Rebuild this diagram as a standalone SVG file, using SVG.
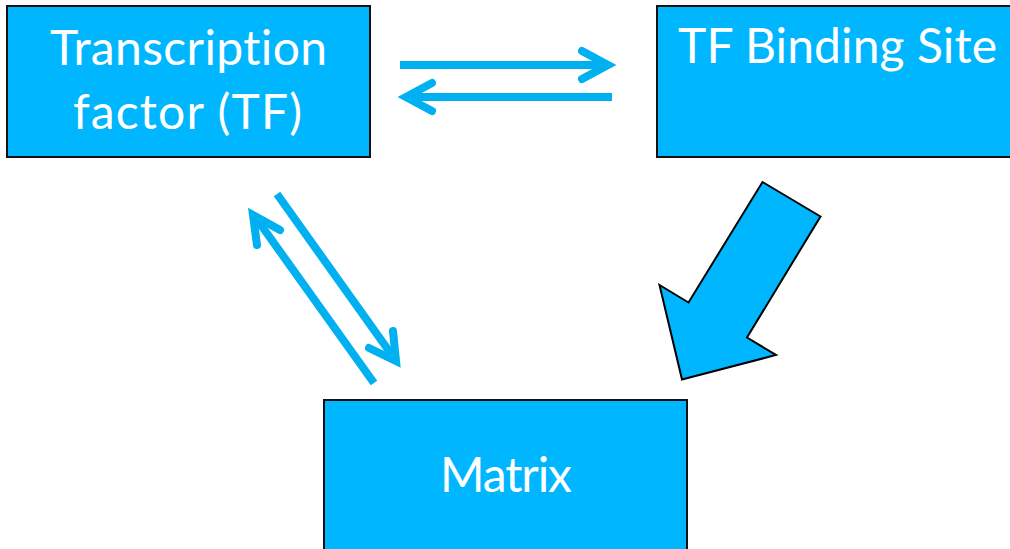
<svg xmlns="http://www.w3.org/2000/svg" width="1010" height="549" viewBox="0 0 1010 549">
  <style>
    .box { fill: #00B7FF; stroke: #111; stroke-width: 2; }
    .label { fill: #fff; font-family: Lato, "Open Sans", "Liberation Sans", sans-serif; font-size: 48px; font-variant-ligatures: none; font-feature-settings: "liga" 0; }
    .shaft { fill: none; stroke: #00B0F0; stroke-width: 8; stroke-linecap: butt; }
    .head { fill: none; stroke: #00B0F0; stroke-width: 8; stroke-linecap: round; stroke-linejoin: miter; stroke-miterlimit: 10; }
    .block { fill: #00B7FF; stroke: #000; stroke-width: 2; stroke-linejoin: miter; }
  </style>
  <rect width="1010" height="549" fill="#fff"/>

  <g id="node-tf">
    <rect class="box" x="7" y="6" width="363" height="151"/>
    <text class="label" x="50" y="65" textLength="277">Transcription</text>
    <text class="label" x="73" y="129" textLength="229">factor (TF)</text>
  </g>

  <g id="node-site">
    <rect class="box" x="657" y="6" width="360" height="151"/>
    <text class="label" x="678" y="63" textLength="319">TF Binding Site</text>
  </g>

  <g id="node-matrix">
    <rect class="box" x="324" y="400" width="363" height="160"/>
    <text class="label" x="440" y="492" textLength="132">Matrix</text>
  </g>

  <g id="connectors">
    <!-- TF -> binding site -->
    <line class="shaft" x1="400" y1="65" x2="606" y2="65"/>
    <polyline class="head" points="582,51 608,65 582,79"/>
    <!-- binding site -> TF -->
    <line class="shaft" x1="612" y1="97" x2="408" y2="97"/>
    <polyline class="head" points="432,83 406,97 432,111"/>
    <!-- TF -> matrix -->
    <line class="shaft" x1="277" y1="194" x2="394" y2="358"/>
    <polyline class="head" points="393,331 396,361 369,348"/>
    <!-- matrix -> TF -->
    <line class="shaft" x1="374" y1="383" x2="256" y2="218"/>
    <polyline class="head" points="257,245 253,215 280,230"/>
    <!-- binding site -> matrix (block arrow) -->
    <polygon class="block" points="762.5,182 820.5,216.5 747,337.5 776,355 682,379.5 659.5,285 688.5,302.5"/>
  </g>
</svg>
